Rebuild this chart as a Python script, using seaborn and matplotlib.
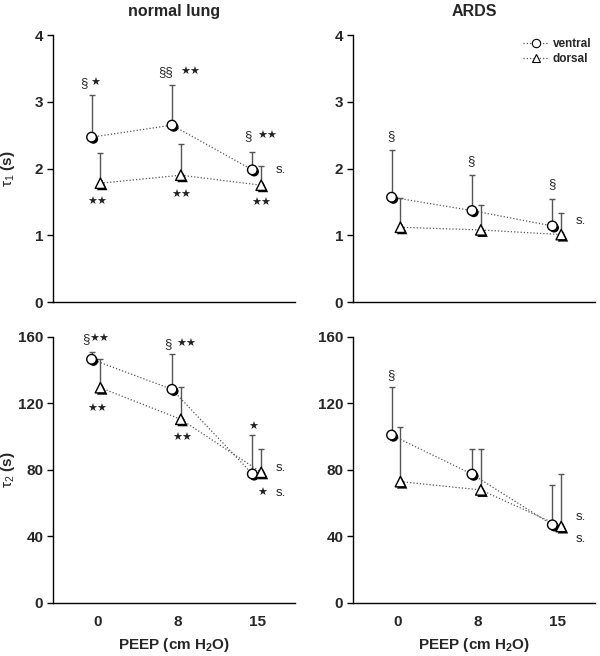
"""
Time constants tau1 / tau2 of ventral and dorsal regions vs PEEP,
normal lung vs ARDS (mean + upper SD).
"""

import numpy as np
import pandas as pd
import matplotlib
matplotlib.use("Agg")
import matplotlib.pyplot as plt
import matplotlib.patheffects as pe
import seaborn as sns

# ============================================
# Data
# ============================================
PEEP_LABELS = ["0", "8", "15"]

# tau1 (s)
tau1_normal_ventral = [2.47, 2.65, 1.98]
tau1_normal_ventral_sd = [0.63, 0.60, 0.27]
tau1_normal_dorsal = [1.78, 1.90, 1.75]
tau1_normal_dorsal_sd = [0.46, 0.47, 0.29]
tau1_ards_ventral = [1.57, 1.37, 1.14]
tau1_ards_ventral_sd = [0.71, 0.53, 0.41]
tau1_ards_dorsal = [1.12, 1.08, 1.01]
tau1_ards_dorsal_sd = [0.44, 0.38, 0.32]

# tau2 (s)
tau2_normal_ventral = [146.6, 128.5, 77.6]
tau2_normal_ventral_sd = [4.6, 21.3, 23.2]
tau2_normal_dorsal = [129.5, 110.5, 78.6]
tau2_normal_dorsal_sd = [17.1, 19.2, 14.1]
tau2_ards_ventral = [101.0, 77.5, 47.0]
tau2_ards_ventral_sd = [29.2, 15.1, 24.0]
tau2_ards_dorsal = [73.0, 68.0, 46.0]
tau2_ards_dorsal_sd = [32.7, 24.6, 31.5]

STAR = "\u2605"

# ============================================
# Style
# ============================================
sns.set_theme(style="ticks")
plt.rcParams["font.family"] = ["Liberation Sans", "DejaVu Sans"]
plt.rcParams["mathtext.fontset"] = "custom"
plt.rcParams["mathtext.rm"] = "Liberation Sans"
plt.rcParams["mathtext.it"] = "Liberation Sans"
plt.rcParams["mathtext.bf"] = "Liberation Sans:bold"

OFFSETS = {"ventral": -0.07, "dorsal": 0.04}
MARKERS = {"ventral": "o", "dorsal": "^"}
SIZES = {"ventral": 48, "dorsal": 56}
SHADOW = [pe.SimplePatchShadow(offset=(1.3, -1.3), shadow_rgbFace="black", alpha=1.0),
          pe.Normal()]


def draw_panel(ax, ventral, ventral_sd, dorsal, dorsal_sd):
    x = np.arange(len(PEEP_LABELS))
    for name, mean, sd in [("ventral", ventral, ventral_sd), ("dorsal", dorsal, dorsal_sd)]:
        df = pd.DataFrame({"pos": x + OFFSETS[name], "mean": mean, "sd": sd})
        ax.errorbar(df["pos"], df["mean"], yerr=[np.zeros(len(df)), df["sd"]],
                    fmt="none", ecolor="#555555", elinewidth=1.0,
                    capsize=2.5, capthick=1.0, zorder=2)
        sns.lineplot(data=df, x="pos", y="mean", ax=ax, color="#555555",
                     linestyle=(0, (1, 1.6)), linewidth=0.9, zorder=3)
        sns.scatterplot(data=df, x="pos", y="mean", ax=ax, marker=MARKERS[name],
                        s=SIZES[name], color="white", edgecolor="black",
                        linewidth=1.0, zorder=4, path_effects=SHADOW)

    ax.set_xlim(-0.55, 2.46)
    ax.set_xticks(x)
    ax.set_xlabel("")
    ax.set_ylabel("")
    sns.despine(ax=ax)
    for side in ("left", "bottom"):
        ax.spines[side].set_linewidth(1.0)
        ax.spines[side].set_color("black")
    ax.tick_params(axis="y", length=4, width=1.0, direction="out",
                   labelsize=11, pad=3, color="black")
    ax.tick_params(axis="x", length=0, labelsize=11, pad=9)
    for lab in ax.get_yticklabels() + ax.get_xticklabels():
        lab.set_fontweight("bold")


def txt(ax, x, y, s, size=9.5, ha="center"):
    ax.text(x, y, s, ha=ha, va="center", fontsize=size, color="#222222",
            family=["DejaVu Sans"] if STAR in s else None)


fig = plt.figure(figsize=(6.0, 6.56), dpi=100)
ax_tl = fig.add_axes([0.0883, 0.5396, 0.4033, 0.4070])
ax_tr = fig.add_axes([0.5883, 0.5396, 0.4033, 0.4070])
ax_bl = fig.add_axes([0.0883, 0.0808, 0.4033, 0.4055])
ax_br = fig.add_axes([0.5883, 0.0808, 0.4033, 0.4055])

draw_panel(ax_tl, tau1_normal_ventral, tau1_normal_ventral_sd,
           tau1_normal_dorsal, tau1_normal_dorsal_sd)
draw_panel(ax_tr, tau1_ards_ventral, tau1_ards_ventral_sd,
           tau1_ards_dorsal, tau1_ards_dorsal_sd)
draw_panel(ax_bl, tau2_normal_ventral, tau2_normal_ventral_sd,
           tau2_normal_dorsal, tau2_normal_dorsal_sd)
draw_panel(ax_br, tau2_ards_ventral, tau2_ards_ventral_sd,
           tau2_ards_dorsal, tau2_ards_dorsal_sd)

for ax in (ax_tl, ax_tr):
    ax.set_ylim(0, 4)
    ax.set_yticks([0, 1, 2, 3, 4])
    ax.set_xticklabels([])
for ax in (ax_bl, ax_br):
    ax.set_ylim(0, 160)
    ax.set_yticks([0, 40, 80, 120, 160])
    ax.set_xticklabels(PEEP_LABELS)
    ax.set_xlabel("PEEP (cm H$_\\mathbf{2}$O)", fontsize=11, fontweight="bold", labelpad=5)
    for lab in ax.get_xticklabels():
        lab.set_fontweight("bold")

ax_tl.set_title("normal lung", fontsize=11.5, fontweight="bold", pad=14)
ax_tr.set_title("ARDS", fontsize=11.5, fontweight="bold", pad=14)
ax_tl.set_ylabel("$\\tau_1$ (s)", fontsize=11, fontweight="bold")
ax_bl.set_ylabel("$\\tau_2$ (s)", fontsize=11, fontweight="bold")
ax_tl.yaxis.set_label_coords(-0.15, 0.5)
ax_bl.yaxis.set_label_coords(-0.15, 0.5)

# significance marks
txt(ax_tl, -0.16, 3.28, "\u00a7")
txt(ax_tl, -0.02, 3.28, STAR, size=8)
txt(ax_tl, 0.85, 3.44, "\u00a7\u00a7")
txt(ax_tl, 1.16, 3.44, STAR + STAR, size=8)
txt(ax_tl, 1.88, 2.49, "\u00a7")
txt(ax_tl, 2.12, 2.49, STAR + STAR, size=8)
txt(ax_tl, 2.22, 1.98, "s.", ha="left")
txt(ax_tl, 0.0, 1.50, STAR + STAR, size=8)
txt(ax_tl, 1.04, 1.61, STAR + STAR, size=8)
txt(ax_tl, 2.04, 1.48, STAR + STAR, size=8)

txt(ax_tr, -0.08, 2.48, "\u00a7")
txt(ax_tr, 0.92, 2.11, "\u00a7")
txt(ax_tr, 1.92, 1.76, "\u00a7")
txt(ax_tr, 2.22, 1.21, "s.", ha="left")

txt(ax_bl, -0.14, 159.0, "\u00a7")
txt(ax_bl, 0.03, 159.0, STAR + STAR, size=8)
txt(ax_bl, 0.88, 156.0, "\u00a7")
txt(ax_bl, 1.11, 156.0, STAR + STAR, size=8)
txt(ax_bl, 0.0, 117.0, STAR + STAR, size=8)
txt(ax_bl, 1.06, 99.0, STAR + STAR, size=8)
txt(ax_bl, 1.94, 106.0, STAR, size=8)
txt(ax_bl, 2.22, 81.0, "s.", ha="left")
txt(ax_bl, 2.05, 66.0, STAR, size=8)
txt(ax_bl, 2.22, 66.0, "s.", ha="left")

txt(ax_br, -0.08, 137.0, "\u00a7")
txt(ax_br, 2.22, 52.0, "s.", ha="left")
txt(ax_br, 2.22, 38.5, "s.", ha="left")

# legend
handles = [
    plt.Line2D([], [], color="#555555", linestyle=(0, (1, 1.6)), linewidth=0.9,
               marker="o", markersize=6, markerfacecolor="white",
               markeredgecolor="black", markeredgewidth=0.8),
    plt.Line2D([], [], color="#555555", linestyle=(0, (1, 1.6)), linewidth=0.9,
               marker="^", markersize=6, markerfacecolor="white",
               markeredgecolor="black", markeredgewidth=0.8),
]
leg = ax_tr.legend(handles, ["ventral", "dorsal"], loc="upper right",
                   bbox_to_anchor=(1.03, 1.03), frameon=False, fontsize=8.5,
                   handlelength=2.2, handletextpad=0.3, labelspacing=0.3)
for t in leg.get_texts():
    t.set_fontweight("bold")

fig.savefig("out.png", dpi=100)
